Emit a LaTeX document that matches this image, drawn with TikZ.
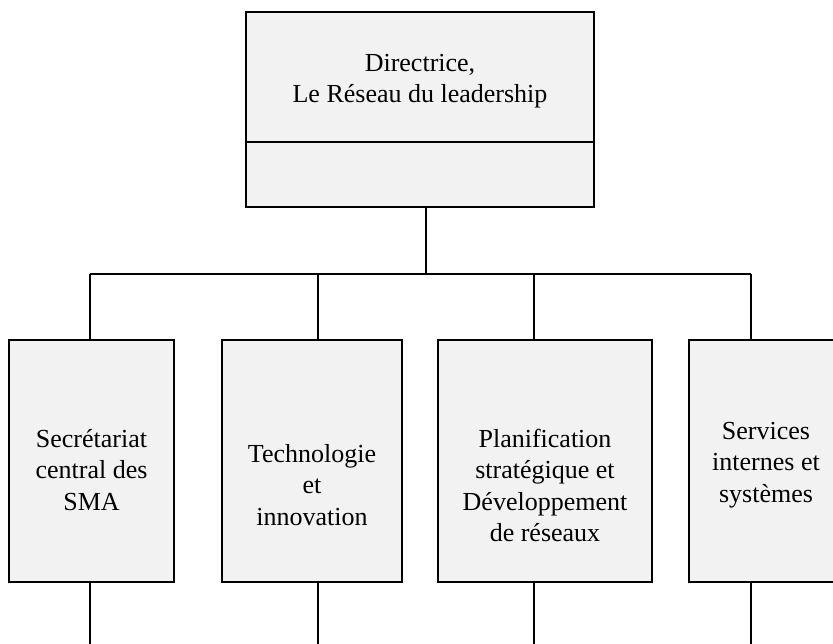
\documentclass[tikz,border=0pt]{standalone}
\usepackage{fontspec}
\setmainfont{Liberation Serif}
\definecolor{boxgray}{HTML}{F2F2F2}
\begin{document}
\begin{tikzpicture}[x=0.5pt,y=-0.5pt,
  box/.style={draw, rectangle, line width=1pt, fill=boxgray, inner sep=0pt},
  lab/.style={anchor=base, inner sep=0pt, font=\fontsize{13}{15.75}\selectfont},
  wire/.style={line width=1pt}]
\clip (0,0) rectangle (833,643);
% boxes
\node[box, minimum width=174pt, minimum height=97.5pt] (top) at (420,109.5) {};
\node[box, minimum width=82.5pt, minimum height=121pt] (b1) at (91.5,461) {};
\node[box, minimum width=90pt, minimum height=121pt] (b2) at (312,461) {};
\node[box, minimum width=107pt, minimum height=121pt] (b3) at (545,461) {};
\node[box, minimum width=77pt, minimum height=121pt] (b4) at (766,461) {};
% divider
\coordinate (dv) at (0,142);
\draw[wire] (top.west |- dv) -- (top.east |- dv);
% labels
\node[lab] (t0) at (420,71) {\begin{tabular}[t]{@{}c@{}}Directrice,\\Le Réseau du leadership\end{tabular}};
\node[lab] (t1) at (91.5,447) {\begin{tabular}[t]{@{}c@{}}Secrétariat\\central des\\SMA\end{tabular}};
\node[lab] (t2) at (312,462) {\begin{tabular}[t]{@{}c@{}}Technologie\\et\\innovation\end{tabular}};
\node[lab] (t3) at (545,447) {\begin{tabular}[t]{@{}c@{}}Planification\\stratégique et\\Développement\\de réseaux\end{tabular}};
\node[lab] (t4) at (766,439) {\begin{tabular}[t]{@{}c@{}}Services\\internes et\\systèmes\end{tabular}};
% connector coordinates
\coordinate (c0) at (426,274);
\coordinate (c1) at (90,274);
\coordinate (c2) at (318,274);
\coordinate (c3) at (534,274);
\coordinate (c4) at (751,274);
\coordinate (bot) at (0,650);
% connectors
\draw[wire] (c0 |- top.south) -- (c0);
\draw[wire] (c1) -- (c4);
\foreach \i in {1,2,3,4} {
  \draw[wire] (c\i) -- (c\i |- b\i.north);
  \draw[wire] (c\i |- b\i.south) -- (c\i |- bot);
}
\end{tikzpicture}
\end{document}
